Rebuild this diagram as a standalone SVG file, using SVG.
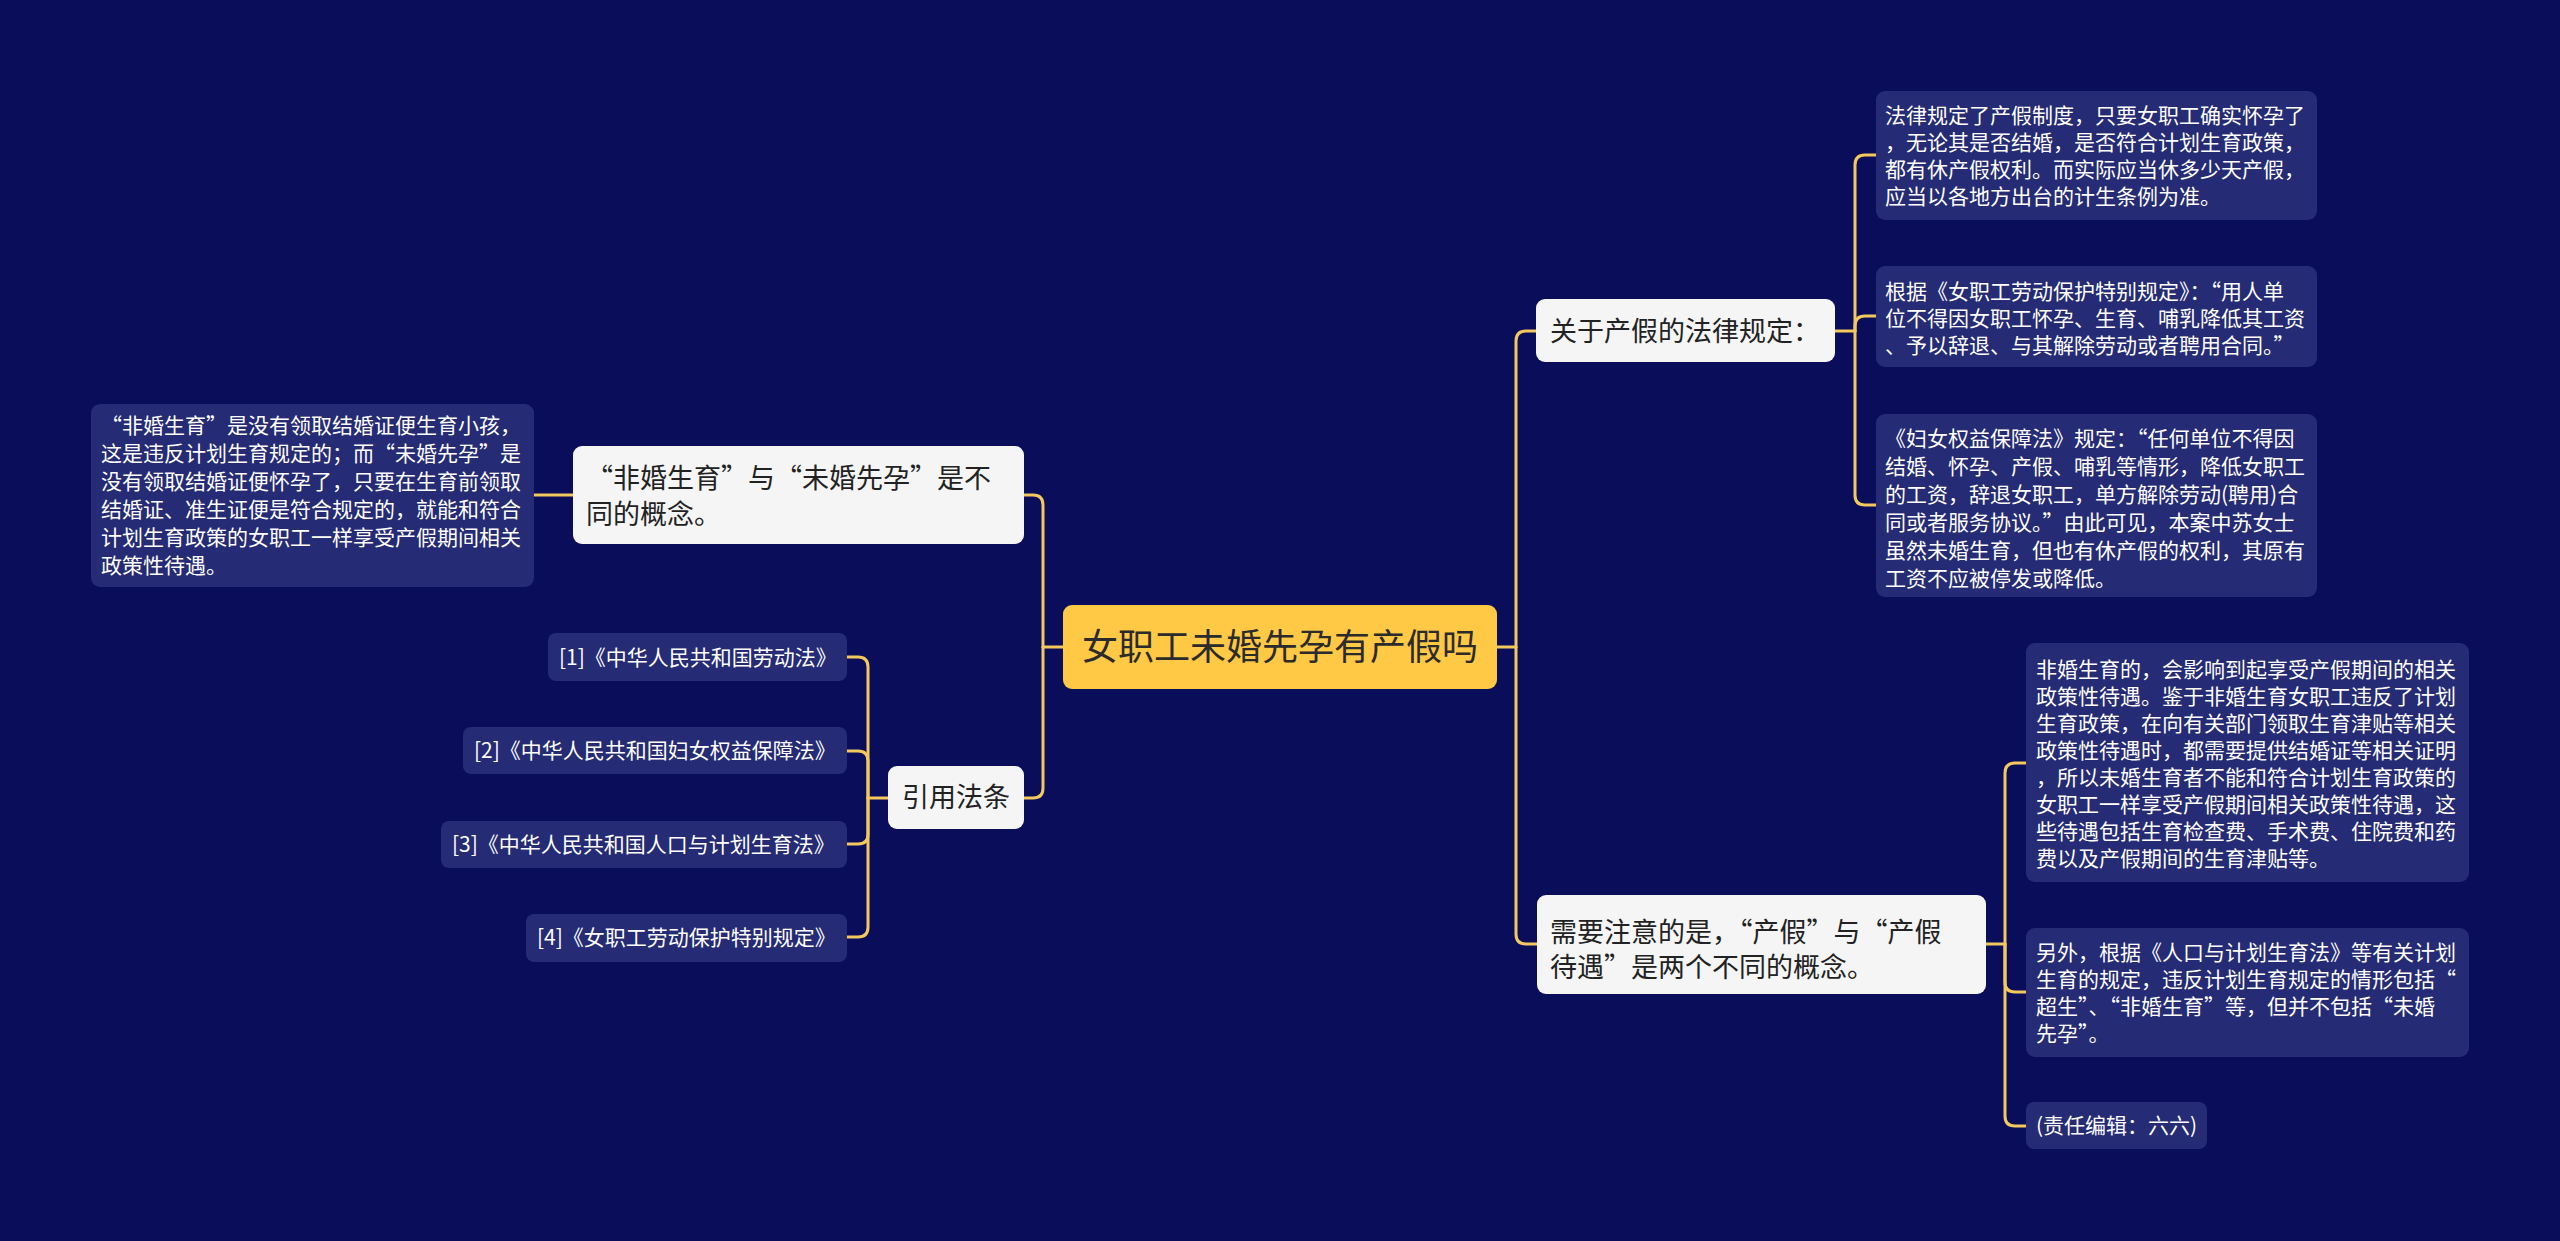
<svg xmlns="http://www.w3.org/2000/svg" width="2560" height="1241" viewBox="0 0 2560 1241">
<style>
text{font-family:"Noto Sans CJK SC","Noto Sans",sans-serif;}
.root{fill:#ffc845;}
.l1{fill:#f5f5f5;}
.leaf{fill:#252b74;}
.tr{font-size:36px;fill:#2b2b2b;}
.t1{font-size:27px;fill:#222222;}
.tl{font-size:21px;fill:#ffffff;}
.conn path{fill:none;stroke:#f3c85c;stroke-width:3;stroke-linecap:round;}
</style>
<rect width="2560" height="1241" fill="#0a0e5a"/>
<g class="conn">
<path d="M1497,647 H1516"/>
<path d="M1516,647 V341 Q1516,331 1526,331 H1536"/>
<path d="M1516,647 V934 Q1516,944 1526,944 H1537"/>
<path d="M1063,647 H1043"/>
<path d="M1043,647 V505 Q1043,495 1033,495 H1024"/>
<path d="M1043,647 V788 Q1043,798 1033,798 H1024"/>
<path d="M573,495 H534"/>
<path d="M888,798 H868"/>
<path d="M868,798 V667 Q868,657 858,657 H847"/>
<path d="M868,798 V761 Q868,751 858,751 H847"/>
<path d="M868,798 V834 Q868,844 858,844 H847"/>
<path d="M868,798 V927 Q868,937 858,937 H847"/>
<path d="M1835,331 H1855"/>
<path d="M1855,331 V165 Q1855,155 1865,155 H1876"/>
<path d="M1855,331 V326 Q1855,316 1865,316 H1876"/>
<path d="M1855,331 V495 Q1855,505 1865,505 H1876"/>
<path d="M1986,944 H2005"/>
<path d="M2005,944 V773 Q2005,763 2015,763 H2026"/>
<path d="M2005,944 V982 Q2005,992 2015,992 H2026"/>
<path d="M2005,944 V1116 Q2005,1126 2015,1126 H2026"/>
</g>
<g id="root">
<rect class="root" x="1063" y="605" width="434" height="84" rx="9"/>
<text class="tr" x="1280" y="660" text-anchor="middle">女职工未婚先孕有产假吗</text>
</g>
<g id="n-concept">
<rect class="l1" x="573" y="446" width="451" height="98" rx="9"/>
<text class="t1" x="586" y="488">“非婚生育”与“未婚先孕”是不</text>
<text class="t1" x="586" y="524">同的概念。</text>
</g>
<g id="n-concept-leaf">
<rect class="leaf" x="91" y="404" width="443" height="183" rx="9"/>
<text class="tl" x="101" y="433">“非婚生育”是没有领取结婚证便生育小孩，</text>
<text class="tl" x="101" y="461">这是违反计划生育规定的；而“未婚先孕”是</text>
<text class="tl" x="101" y="489">没有领取结婚证便怀孕了，只要在生育前领取</text>
<text class="tl" x="101" y="517">结婚证、准生证便是符合规定的，就能和符合</text>
<text class="tl" x="101" y="545">计划生育政策的女职工一样享受产假期间相关</text>
<text class="tl" x="101" y="573">政策性待遇。</text>
</g>
<g id="n-laws">
<rect class="l1" x="888" y="766" width="136" height="63" rx="9"/>
<text class="t1" x="902" y="807">引用法条</text>
</g>
<g id="n-law1">
<rect class="leaf" x="548" y="633" width="299" height="48" rx="8"/>
<text class="tl" x="559" y="665">[1]《中华人民共和国劳动法》</text>
</g>
<g id="n-law2">
<rect class="leaf" x="463" y="727" width="384" height="47" rx="8"/>
<text class="tl" x="474" y="758">[2]《中华人民共和国妇女权益保障法》</text>
</g>
<g id="n-law3">
<rect class="leaf" x="441" y="821" width="406" height="47" rx="8"/>
<text class="tl" x="452" y="852">[3]《中华人民共和国人口与计划生育法》</text>
</g>
<g id="n-law4">
<rect class="leaf" x="526" y="914" width="321" height="48" rx="8"/>
<text class="tl" x="537" y="945">[4]《女职工劳动保护特别规定》</text>
</g>
<g id="n-legal">
<rect class="l1" x="1536" y="299" width="299" height="63" rx="9"/>
<text class="t1" x="1550" y="341">关于产假的法律规定：</text>
</g>
<g id="n-legal-1">
<rect class="leaf" x="1876" y="91" width="441" height="129" rx="9"/>
<text class="tl" x="1885" y="123">法律规定了产假制度，只要女职工确实怀孕了</text>
<text class="tl" x="1885" y="150">，无论其是否结婚，是否符合计划生育政策，</text>
<text class="tl" x="1885" y="177">都有休产假权利。而实际应当休多少天产假，</text>
<text class="tl" x="1885" y="204">应当以各地方出台的计生条例为准。</text>
</g>
<g id="n-legal-2">
<rect class="leaf" x="1876" y="266" width="441" height="101" rx="9"/>
<text class="tl" x="1885" y="299">根据《女职工劳动保护特别规定》：“用人单</text>
<text class="tl" x="1885" y="326">位不得因女职工怀孕、生育、哺乳降低其工资</text>
<text class="tl" x="1885" y="353">、予以辞退、与其解除劳动或者聘用合同。”</text>
</g>
<g id="n-legal-3">
<rect class="leaf" x="1876" y="414" width="441" height="183" rx="9"/>
<text class="tl" x="1885" y="446">《妇女权益保障法》规定：“任何单位不得因</text>
<text class="tl" x="1885" y="474">结婚、怀孕、产假、哺乳等情形，降低女职工</text>
<text class="tl" x="1885" y="502">的工资，辞退女职工，单方解除劳动(聘用)合</text>
<text class="tl" x="1885" y="530">同或者服务协议。”由此可见，本案中苏女士</text>
<text class="tl" x="1885" y="558">虽然未婚生育，但也有休产假的权利，其原有</text>
<text class="tl" x="1885" y="586">工资不应被停发或降低。</text>
</g>
<g id="n-note">
<rect class="l1" x="1537" y="895" width="449" height="99" rx="9"/>
<text class="t1" x="1550" y="942">需要注意的是，“产假”与“产假</text>
<text class="t1" x="1550" y="977">待遇”是两个不同的概念。</text>
</g>
<g id="n-note-1">
<rect class="leaf" x="2026" y="643" width="443" height="239" rx="9"/>
<text class="tl" x="2036" y="677">非婚生育的，会影响到起享受产假期间的相关</text>
<text class="tl" x="2036" y="704">政策性待遇。鉴于非婚生育女职工违反了计划</text>
<text class="tl" x="2036" y="731">生育政策，在向有关部门领取生育津贴等相关</text>
<text class="tl" x="2036" y="758">政策性待遇时，都需要提供结婚证等相关证明</text>
<text class="tl" x="2036" y="785">，所以未婚生育者不能和符合计划生育政策的</text>
<text class="tl" x="2036" y="812">女职工一样享受产假期间相关政策性待遇，这</text>
<text class="tl" x="2036" y="839">些待遇包括生育检查费、手术费、住院费和药</text>
<text class="tl" x="2036" y="866">费以及产假期间的生育津贴等。</text>
</g>
<g id="n-note-2">
<rect class="leaf" x="2026" y="928" width="443" height="129" rx="9"/>
<text class="tl" x="2036" y="960">另外，根据《人口与计划生育法》等有关计划</text>
<text class="tl" x="2036" y="987">生育的规定，违反计划生育规定的情形包括“</text>
<text class="tl" x="2036" y="1014">超生”、“非婚生育”等，但并不包括“未婚</text>
<text class="tl" x="2036" y="1041">先孕”。</text>
</g>
<g id="n-note-3">
<rect class="leaf" x="2026" y="1102" width="181" height="47" rx="8"/>
<text class="tl" x="2036" y="1133">(责任编辑：六六)</text>
</g>
</svg>
